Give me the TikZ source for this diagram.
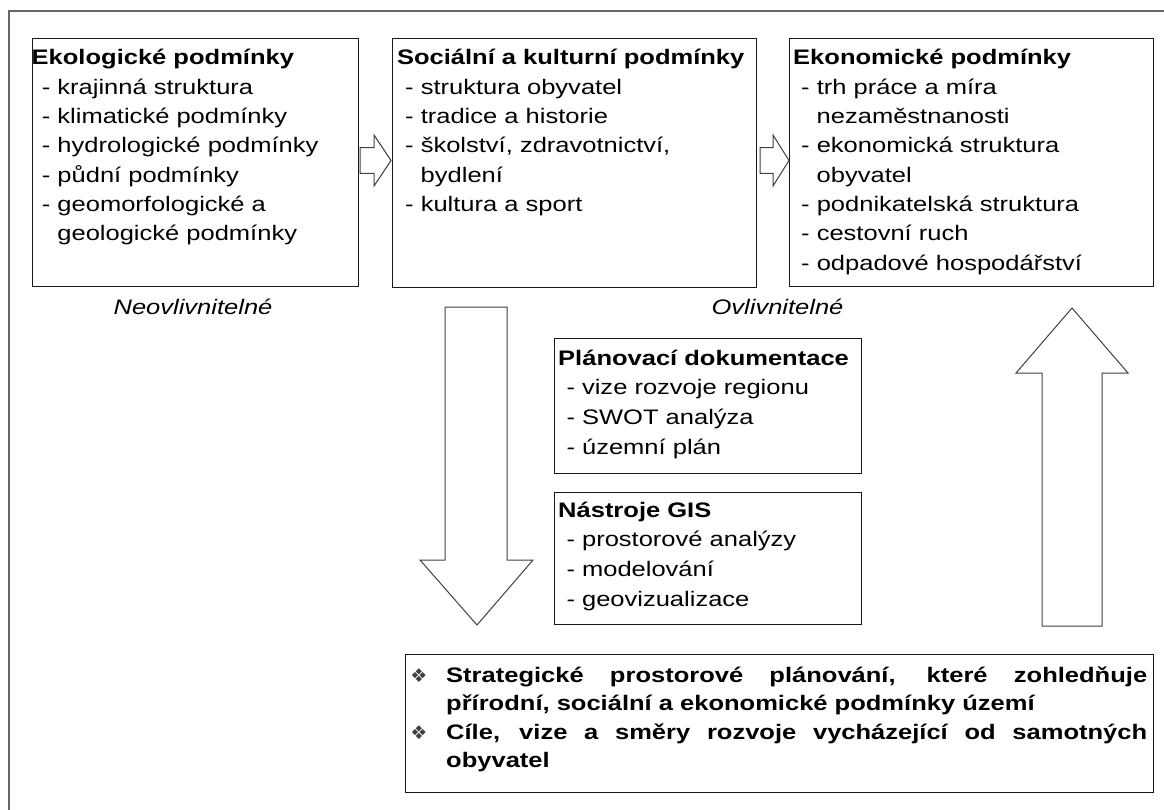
\documentclass[tikz,border=0pt]{standalone}
\usepackage{fontspec}
\setmainfont{Liberation Sans}[FakeStretch=1.215]
\newfontfamily\dejavu{DejaVu Sans}
\newcommand\tline[4]{\node[txt] (#1) at (#2,#3) {#4};}
\begin{document}
\begin{tikzpicture}[x=1pt,y=-1pt,
  box/.style={draw=black!90, line width=1.2pt, inner sep=0pt, anchor=north west},
  blk/.style={draw=black!75, line width=1pt, fill=white, line join=miter},
  txt/.style={anchor=base west, inner sep=0pt, font=\fontsize{21}{25}\selectfont},
  lbl/.style={anchor=base, inner sep=0pt, font=\fontsize{21}{25}\selectfont\itshape},
  bul/.style={inner sep=0pt, text=black!75, font=\dejavu\fontsize{19}{19}\selectfont}]
\useasboundingbox (0,0) rectangle (1164,810);
\draw[draw=black!60, line width=1.5pt] (1164,11) -- (9,11) -- (9,810);

% top boxes
\node[box, minimum width=326, minimum height=248] (eko) at (32,38) {};
\node[box, minimum width=364, minimum height=249] (soc) at (392,38) {};
\node[box, minimum width=364, minimum height=248] (ekon) at (789,38) {};

% arrows between top boxes
\draw[blk] (360,147.7) -- (374,147.7) -- (374,135) -- (391,160.5) -- (374,186) -- (374,173.3) -- (360,173.3) -- cycle;
\draw[blk] (760,147.7) -- (773,147.7) -- (773,135) -- (789,160.5) -- (773,186) -- (773,173.3) -- (760,173.3) -- cycle;

% box 1 text
\tline{e0}{31.5}{65}{\bfseries Ekologické podmínky}
\tline{e1}{41.7}{94.3}{- krajinná struktura}
\tline{e2}{41.7}{123.6}{- klimatické podmínky}
\tline{e3}{41.7}{152.9}{- hydrologické podmínky}
\tline{e4}{41.7}{182.2}{- půdní podmínky}
\tline{e5}{41.7}{211.5}{- geomorfologické a}
\tline{e6}{57.2}{240.8}{geologické podmínky}

% box 2 text
\tline{s0}{396.8}{65}{\bfseries Sociální a kulturní podmínky}
\tline{s1}{405}{94.3}{- struktura obyvatel}
\tline{s2}{405}{123.6}{- tradice a historie}
\tline{s3}{405}{152.9}{- školství, zdravotnictví,}
\tline{s4}{420.5}{182.2}{bydlení}
\tline{s5}{405}{211.5}{- kultura a sport}

% box 3 text
\tline{k0}{793}{65}{\bfseries Ekonomické podmínky}
\tline{k1}{801}{94.3}{- trh práce a míra}
\tline{k2}{816.5}{123.6}{nezaměstnanosti}
\tline{k3}{801}{152.9}{- ekonomická struktura}
\tline{k4}{816.5}{182.2}{obyvatel}
\tline{k5}{801}{211.5}{- podnikatelská struktura}
\tline{k6}{801}{240.8}{- cestovní ruch}
\tline{k7}{801}{270.1}{- odpadové hospodářství}

% labels
\node[lbl] (neo) at (193,314) {Neovlivnitelné};
\node[lbl] (ovl) at (777.5,314) {Ovlivnitelné};

% big arrows
\draw[blk] (445,307) -- (507,307) -- (507,560) -- (533,560) -- (477,625) -- (420,560) -- (445,560) -- cycle;
\draw[blk] (1072,308) -- (1128,373) -- (1102,373) -- (1102,626) -- (1042,626) -- (1042,373) -- (1016,373) -- cycle;

% planning box
\node[box, minimum width=307, minimum height=135] (plan) at (554,338) {};
\tline{p0}{558}{365}{\bfseries Plánovací dokumentace}
\tline{p1}{566.3}{394.8}{- vize rozvoje regionu}
\tline{p2}{566.3}{424.6}{- SWOT analýza}
\tline{p3}{566.3}{454.4}{- územní plán}

% GIS box
\node[box, minimum width=307, minimum height=132] (gis) at (554,492) {};
\tline{g0}{558}{517}{\bfseries Nástroje GIS}
\tline{g1}{566.3}{546.8}{- prostorové analýzy}
\tline{g2}{566.3}{576.6}{- modelování}
\tline{g3}{566.3}{606.4}{- geovizualizace}

% bottom box
\node[box, minimum width=748, minimum height=138] (strat) at (405,654) {};
\node[bul] (b1) at (419,675.5) {❖};
\node[bul] (b2) at (419,732.5) {❖};
\tline{t1}{446}{682}{\bfseries\makebox[701pt][s]{Strategické prostorové plánování, které zohledňuje}}
\tline{t2}{446}{710.5}{\bfseries přírodní, sociální a ekonomické podmínky území}
\tline{t3}{446}{739}{\bfseries\makebox[701pt][s]{Cíle, vize a směry rozvoje vycházející od samotných}}
\tline{t4}{446}{767.5}{\bfseries obyvatel}
\end{tikzpicture}
\end{document}
